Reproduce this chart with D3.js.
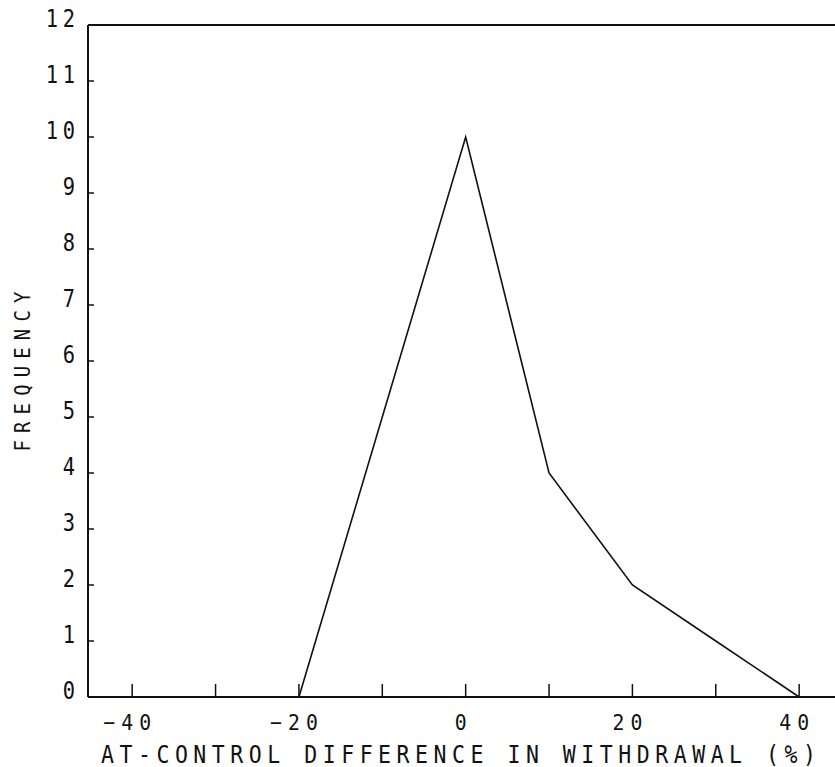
<!DOCTYPE html>
<html>
<head>
<meta charset="utf-8">
<script src="https://cdn.jsdelivr.net/npm/d3@7"></script>
<style>
  body { margin: 0; background: #fff; }
  svg text { font-family: "DejaVu Sans Mono", monospace; fill: #111; }
</style>
</head>
<body>
<svg id="chart" width="835" height="767"></svg>
<script>
const diffPct = [-20, -10, 0, 10, 20, 30, 40];
const frequency = [0, 5, 10, 4, 2, 1, 0];
const xTicks = [-40, -30, -20, -10, 0, 10, 20, 30, 40];
const xTickLabels = [-40, -20, 0, 20, 40];
const yTicks = [0, 1, 2, 3, 4, 5, 6, 7, 8, 9, 10, 11, 12];

const svg = d3.select('#chart');

const x = d3.scaleLinear().domain([-45.3, 44.3]).range([88, 835]);
const y = d3.scaleLinear().domain([0, 12]).range([697, 25]);

// frame: left axis, bottom axis, top border (no right side)
svg.append('line').attr('x1', 88).attr('x2', 88).attr('y1', y(12)).attr('y2', y(0))
  .attr('stroke', '#111').attr('stroke-width', 2);
svg.append('line').attr('x1', 88).attr('x2', 835).attr('y1', y(0)).attr('y2', y(0))
  .attr('stroke', '#111').attr('stroke-width', 2);
svg.append('line').attr('x1', 88).attr('x2', 835).attr('y1', y(12)).attr('y2', y(12))
  .attr('stroke', '#111').attr('stroke-width', 2);

// y ticks point inward
svg.selectAll('.ytick').data(yTicks.filter(d => d > 0 && d < 12)).join('line')
  .attr('class', 'ytick')
  .attr('x1', 88).attr('x2', 94)
  .attr('y1', d => y(d)).attr('y2', d => y(d))
  .attr('stroke', '#111').attr('stroke-width', 1.5);

// narrow plotter-like digits: scale glyphs horizontally
svg.selectAll('.ylab').data(yTicks).join('text')
  .attr('class', 'ylab')
  .attr('transform', d => `translate(${75 + 5.6 * 0.85},${y(d) + 2}) scale(0.85,1)`)
  .attr('text-anchor', 'end')
  .attr('font-size', 24)
  .attr('letter-spacing', 5.6)
  .text(d => d);

// x ticks point up
svg.selectAll('.xtick').data(xTicks).join('line')
  .attr('class', 'xtick')
  .attr('x1', d => x(d)).attr('x2', d => x(d))
  .attr('y1', y(0)).attr('y2', y(0) - 13)
  .attr('stroke', '#111').attr('stroke-width', 1.5);

svg.selectAll('.xlab').data(xTickLabels).join('text')
  .attr('class', 'xlab')
  .attr('transform', d => `translate(${x(d) - 5 + 3.4 * 0.9},730) scale(0.9,1)`)
  .attr('text-anchor', 'middle')
  .attr('font-size', 22)
  .attr('letter-spacing', 6.8)
  .text(d => d < 0 ? '\u2212' + Math.abs(d) : d);

svg.append('text')
  .attr('transform', 'translate(101,763) scale(0.88,1)')
  .attr('font-size', 24.5)
  .attr('textLength', 715 / 0.88).attr('lengthAdjust', 'spacing')
  .text('AT-CONTROL DIFFERENCE IN WITHDRAWAL (%)');

svg.append('text')
  .attr('transform', 'translate(30,368) rotate(-90) scale(0.9,1)')
  .attr('text-anchor', 'middle')
  .attr('font-size', 21)
  .attr('letter-spacing', 8)
  .text('FREQUENCY');

const line = d3.line().x((d, i) => x(diffPct[i])).y(d => y(d));
svg.append('path')
  .datum(frequency)
  .attr('d', line)
  .attr('fill', 'none')
  .attr('stroke', '#111')
  .attr('stroke-width', 1.6);
</script>
</body>
</html>
